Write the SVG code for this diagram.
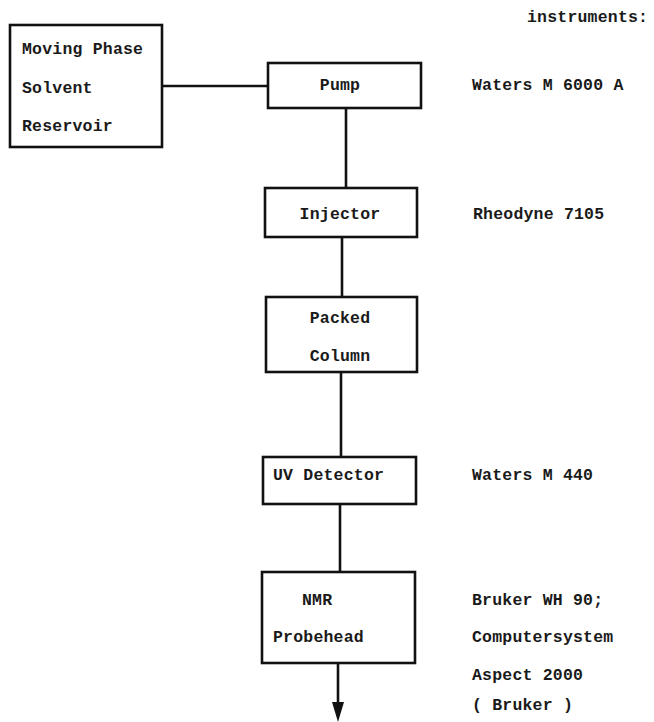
<svg xmlns="http://www.w3.org/2000/svg" width="654" height="722" viewBox="0 0 654 722">
<style>
.box{fill:none;stroke:#111;stroke-width:2.6}
.ln{fill:none;stroke:#111;stroke-width:2.6}
text{font-family:"Liberation Mono","DejaVu Sans Mono",monospace;font-weight:bold;font-size:16.5px;letter-spacing:0.2px;fill:#1a1a1a}
.c{text-anchor:middle}
</style>
<rect width="654" height="722" fill="#fff"/>
<g id="reservoir">
<rect class="box" x="10" y="25" width="152" height="122"/>
<text x="22" y="54">Moving Phase</text>
<text x="22" y="93">Solvent</text>
<text x="22" y="131">Reservoir</text>
</g>
<g id="pump">
<rect class="box" x="268" y="63" width="153" height="45"/>
<text class="c" x="340" y="90">Pump</text>
</g>
<g id="injector">
<rect class="box" x="265" y="188" width="152" height="49"/>
<text class="c" x="340" y="219">Injector</text>
</g>
<g id="column">
<rect class="box" x="266" y="297" width="151" height="75"/>
<text class="c" x="340" y="323">Packed</text>
<text class="c" x="340" y="361">Column</text>
</g>
<g id="uv">
<rect class="box" x="263" y="457" width="153" height="47"/>
<text x="273" y="480">UV Detector</text>
</g>
<g id="nmr">
<rect class="box" x="262" y="572" width="153" height="91"/>
<text x="302" y="605">NMR</text>
<text x="273" y="642">Probehead</text>
</g>
<g id="labels">
<text x="527" y="22">instruments:</text>
<text x="472" y="90">Waters M 6000 A</text>
<text x="473" y="219">Rheodyne 7105</text>
<text x="472" y="480">Waters M 440</text>
<text x="472" y="605">Bruker WH 90;</text>
<text x="472" y="642">Computersystem</text>
<text x="472" y="680">Aspect 2000</text>
<text x="472" y="710">( Bruker )</text>
</g>
<g id="connectors">
<line class="ln" x1="162" y1="86" x2="268" y2="86"/>
<line class="ln" x1="346" y1="108" x2="346" y2="188"/>
<line class="ln" x1="342" y1="237" x2="342" y2="297"/>
<line class="ln" x1="341" y1="372" x2="341" y2="457"/>
<line class="ln" x1="340" y1="504" x2="340" y2="572"/>
<line class="ln" x1="338" y1="663" x2="338" y2="705"/>
<polygon points="332,702 344,702 338,722" fill="#111"/>
</g>
</svg>
